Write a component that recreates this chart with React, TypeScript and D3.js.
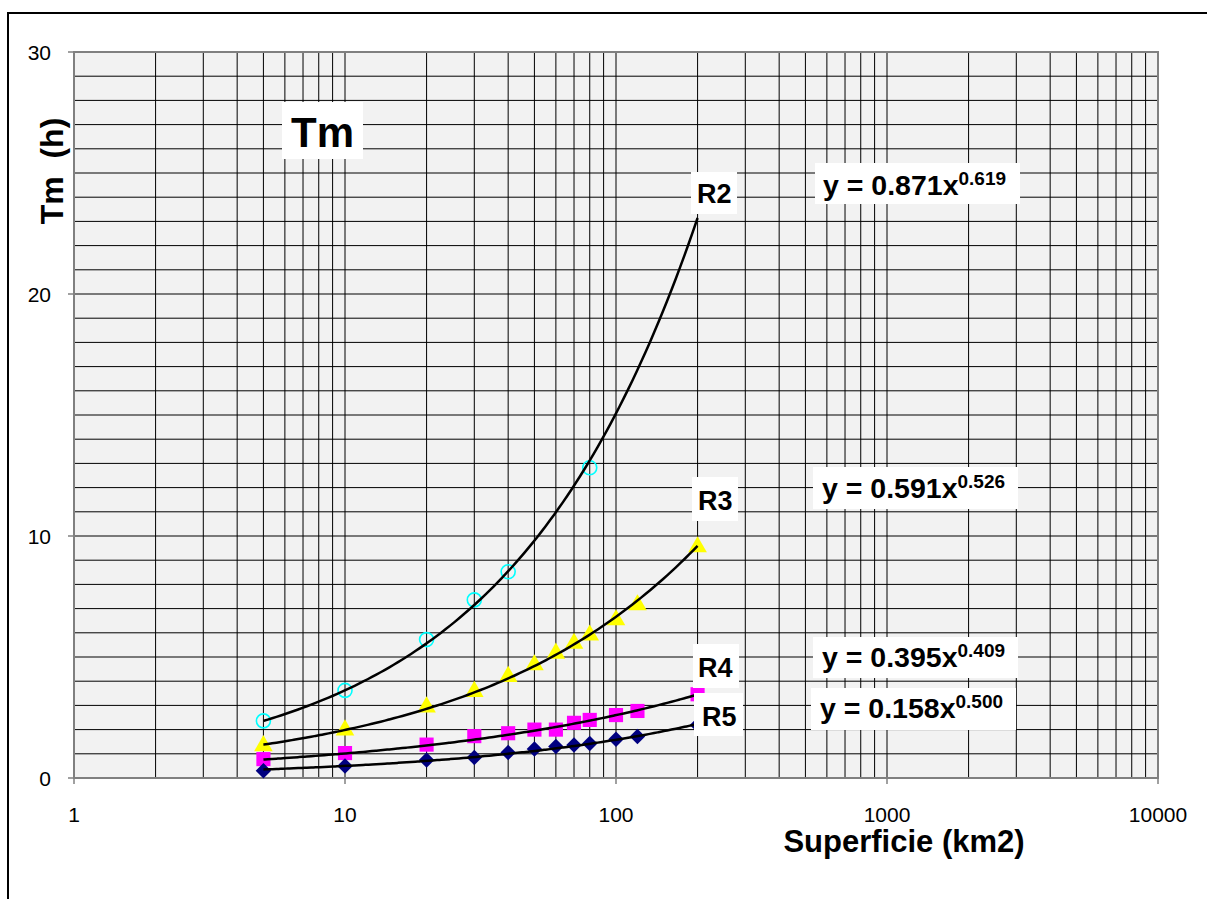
import React, { useEffect, useRef } from "react";
import * as d3 from "d3";

// x values (km2) of the measured basins
const areaR2 = [5, 10, 20, 30, 40, 80];
const areaAll = [5, 10, 20, 30, 40, 50, 60, 70, 80, 100, 120, 200];

// Tm (h)
const tmR2 = [2.36, 3.62, 5.72, 7.36, 8.52, 12.82];
const tmR3 = [1.33, 1.98, 2.93, 3.57, 4.19, 4.67, 5.15, 5.56, 5.9, 6.53, 7.15, 9.55];
const tmR4 = [0.78, 1.03, 1.38, 1.73, 1.85, 2.0, 2.0, 2.28, 2.4, 2.6, 2.77, 3.46];
const tmR5 = [0.3, 0.5, 0.74, 0.85, 1.05, 1.2, 1.3, 1.36, 1.43, 1.6, 1.71, 2.19];

// power trendlines y = a * x^b as printed on the chart
const trendA = [0.871, 0.591, 0.395, 0.158];
const trendB = [0.619, 0.526, 0.409, 0.5];
const trendAText = ["0.871", "0.591", "0.395", "0.158"];
const trendBText = ["0.619", "0.526", "0.409", "0.500"];
const seriesNames = ["R2", "R3", "R4", "R5"];

const xTicks = [1, 10, 100, 1000, 10000];
const yTicks = [0, 10, 20, 30];

const FONT = "Arial, 'Liberation Sans', sans-serif";

const App = () => {
  const ref = useRef(null);

  useEffect(() => {
    draw();
    return () => {
      d3.select(ref.current).select("svg").remove();
    };
  }, []);

  const draw = () => {
    const width = 1207;
    const height = 899;
    const svg = d3
      .select(ref.current)
      .append("svg")
      .attr("width", width)
      .attr("height", height)
      .style("position", "absolute")
      .style("left", "0px")
      .style("top", "0px")
      .style("font-family", FONT);

    // outer frame of the chart object (runs off the page)
    svg
      .append("rect")
      .attr("x", 8)
      .attr("y", 13)
      .attr("width", 1260)
      .attr("height", 950)
      .attr("fill", "white")
      .attr("stroke", "black")
      .attr("stroke-width", 2);

    const left = 74;
    const right = 1158;
    const top = 52;
    const bottom = 778;

    const x = d3.scaleLog().domain([1, 10000]).range([left, right]);
    const y = d3.scaleLinear().domain([0, 30]).range([bottom, top]);

    // plot area
    svg
      .append("rect")
      .attr("x", left)
      .attr("y", top)
      .attr("width", right - left)
      .attr("height", bottom - top)
      .attr("fill", "#f2f2f2");

    const grid = svg.append("g").attr("stroke", "black").attr("stroke-width", 1);
    // vertical log grid: 1..9, 10..90, ...
    const vLines: number[] = [];
    for (let dec = 1; dec < 10000; dec *= 10) {
      for (let m = 1; m < 10; m++) vLines.push(dec * m);
    }
    vLines.forEach((v) => {
      grid
        .append("line")
        .attr("x1", x(v))
        .attr("x2", x(v))
        .attr("y1", top)
        .attr("y2", bottom);
    });
    d3.range(0, 31).forEach((v) => {
      grid
        .append("line")
        .attr("x1", left)
        .attr("x2", right)
        .attr("y1", y(v))
        .attr("y2", y(v));
    });

    // plot border
    svg
      .append("rect")
      .attr("x", left)
      .attr("y", top)
      .attr("width", right - left)
      .attr("height", bottom - top)
      .attr("fill", "none")
      .attr("stroke", "#808080")
      .attr("stroke-width", 2);

    // y ticks
    yTicks.forEach((t) => {
      svg
        .append("line")
        .attr("x1", left - 6)
        .attr("x2", left)
        .attr("y1", y(t))
        .attr("y2", y(t))
        .attr("stroke", "#808080")
        .attr("stroke-width", 1.5);
      svg
        .append("text")
        .attr("x", 51)
        .attr("y", y(t))
        .attr("dy", "0.36em")
        .attr("text-anchor", "end")
        .style("font-size", "21px")
        .text(t);
    });

    // x ticks
    xTicks.forEach((t) => {
      svg
        .append("line")
        .attr("x1", x(t))
        .attr("x2", x(t))
        .attr("y1", bottom)
        .attr("y2", bottom + 6)
        .attr("stroke", "#808080")
        .attr("stroke-width", 1.5);
      svg
        .append("text")
        .attr("x", x(t))
        .attr("y", 822)
        .attr("text-anchor", "middle")
        .style("font-size", "21px")
        .text(t);
    });

    // axis titles
    svg
      .append("text")
      .attr("x", 904)
      .attr("y", 852)
      .attr("text-anchor", "middle")
      .style("font-size", "31px")
      .style("font-weight", "bold")
      .text("Superficie (km2)");

    svg
      .append("text")
      .attr("transform", "translate(63, 171) rotate(-90)")
      .attr("text-anchor", "middle")
      .style("font-size", "32px")
      .style("font-weight", "bold")
      .style("white-space", "pre")
      .text("Tm\u00a0\u00a0(h)");

    // markers
    const markers = svg.append("g");
    areaR2.forEach((a, i) => {
      markers
        .append("circle")
        .attr("cx", x(a))
        .attr("cy", y(tmR2[i]))
        .attr("r", 7)
        .attr("fill", "none")
        .attr("stroke", "#00ffff")
        .attr("stroke-width", 1.6);
    });
    const tri = d3.symbol().type(d3.symbolTriangle).size(150);
    const sq = d3.symbol().type(d3.symbolSquare).size(200);
    const dia = d3.symbol().type(d3.symbolSquare).size(120);
    areaAll.forEach((a, i) => {
      markers
        .append("path")
        .attr("d", tri() as string)
        .attr("transform", `translate(${x(a)},${y(tmR3[i])})`)
        .attr("fill", "#ffff00");
      markers
        .append("path")
        .attr("d", sq() as string)
        .attr("transform", `translate(${x(a)},${y(tmR4[i])})`)
        .attr("fill", "#ff00ff");
      markers
        .append("path")
        .attr("d", dia() as string)
        .attr("transform", `translate(${x(a)},${y(tmR5[i])}) rotate(45)`)
        .attr("fill", "#000080");
    });

    // power trendlines from 5 to 200 km2
    const xs = d3.range(0, 101).map((k) => 5 * Math.pow(40, k / 100));
    const line = d3
      .line<number[]>()
      .x((d) => x(d[0]))
      .y((d) => y(d[1]))
      .curve(d3.curveMonotoneX);
    trendA.forEach((a, i) => {
      svg
        .append("path")
        .datum(xs.map((v) => [v, a * Math.pow(v, trendB[i])]))
        .attr("d", line as any)
        .attr("fill", "none")
        .attr("stroke", "black")
        .attr("stroke-width", 2.5);
    });

    // series labels
    const labelBoxes = [
      { x: 691, y: 172, w: 46, h: 42, tx: 697, ty: 203 },
      { x: 692, y: 477, w: 46, h: 44, tx: 698, ty: 510 },
      { x: 693, y: 644, w: 46, h: 44, tx: 698, ty: 677 },
      { x: 694, y: 693, w: 49, h: 43, tx: 702, ty: 726 },
    ];
    seriesNames.forEach((name, i) => {
      const b = labelBoxes[i];
      svg
        .append("rect")
        .attr("x", b.x)
        .attr("y", b.y)
        .attr("width", b.w)
        .attr("height", b.h)
        .attr("fill", "white");
      svg
        .append("text")
        .attr("x", b.tx)
        .attr("y", b.ty)
        .style("font-size", "27px")
        .style("font-weight", "bold")
        .text(name);
    });

    // equation labels
    const eqBoxes = [
      { x: 815, y: 163, w: 205, h: 41, tx: 823, ty: 195 },
      { x: 813, y: 467, w: 205, h: 42, tx: 822, ty: 498 },
      { x: 813, y: 637, w: 205, h: 41, tx: 822, ty: 667 },
      { x: 811, y: 688, w: 205, h: 42, tx: 820, ty: 718 },
    ];
    trendAText.forEach((a, i) => {
      const b = eqBoxes[i];
      svg
        .append("rect")
        .attr("x", b.x)
        .attr("y", b.y)
        .attr("width", b.w)
        .attr("height", b.h)
        .attr("fill", "white");
      const t = svg
        .append("text")
        .attr("x", b.tx)
        .attr("y", b.ty)
        .style("font-weight", "bold");
      t.append("tspan").style("font-size", "28.5px").text(`y = ${a}x`);
      t.append("tspan")
        .attr("dy", -10)
        .style("font-size", "19px")
        .text(trendBText[i]);
    });

    // chart title box
    svg
      .append("rect")
      .attr("x", 282)
      .attr("y", 102)
      .attr("width", 81)
      .attr("height", 57)
      .attr("fill", "white");
    svg
      .append("text")
      .attr("x", 322.5)
      .attr("y", 147)
      .attr("text-anchor", "middle")
      .style("font-size", "42px")
      .style("font-weight", "bold")
      .text("Tm");
  };

  return <div ref={ref}></div>;
};

export default App;
